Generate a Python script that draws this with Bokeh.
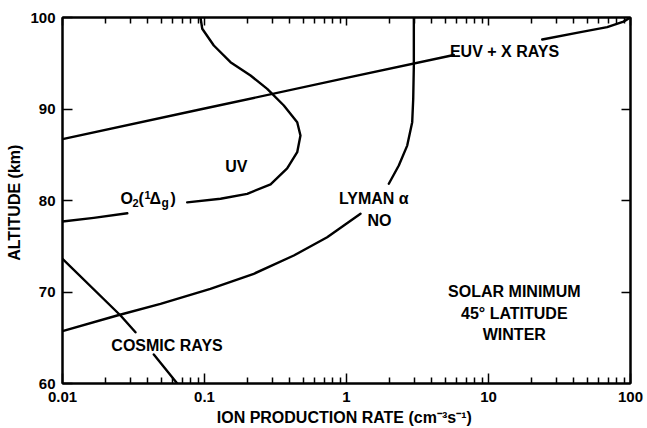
from bokeh.plotting import figure
from bokeh.models import LogAxis, LinearAxis, FixedTicker, Label, Range1d
from bokeh.embed import file_html
from bokeh.resources import INLINE

FONT = "Liberation Sans"

# Axis ticks
x_major = [0.01, 0.1, 1, 10, 100]
x_tick_labels = ["0.01", "0.1", "1", "10", "100"]
y_major = [60, 70, 80, 90, 100]
y_right_ticks = [70, 80, 90]

# Ion production rate (cm^-3 s^-1) against altitude (km).
# Each source is split into pieces where its label interrupts the curve.
euv_lo_rate = [0.01, 0.1, 1.0, 5.7]
euv_lo_alt = [86.7, 90.05, 93.4, 95.9]
euv_hi_rate = [23.9, 44.5, 68.5, 89.3, 100.0]
euv_hi_alt = [97.6, 98.4, 98.95, 99.55, 100.0]

uv_lo_rate = [0.01, 0.0166, 0.0286]
uv_lo_alt = [77.7, 78.1, 78.6]
uv_hi_rate = [0.0755, 0.1297, 0.1999, 0.292, 0.382, 0.4497, 0.474, 0.4497,
              0.362, 0.2765, 0.211, 0.1524, 0.1163, 0.0964, 0.0937]
uv_hi_alt = [79.8, 80.19, 80.73, 81.77, 83.5, 85.28, 87.1, 88.55,
             90.38, 92.2, 93.66, 95.12, 96.94, 98.77, 100.0]

lyman_lo_rate = [0.01, 0.02426, 0.049, 0.110, 0.2223, 0.4255, 0.731, 1.255]
lyman_lo_alt = [65.72, 67.43, 68.71, 70.35, 71.99, 73.99, 75.99, 78.55]
lyman_hi_rate = [1.986, 2.335, 2.676, 2.902, 2.95, 2.98, 2.98]
lyman_hi_alt = [81.83, 83.83, 86.0, 88.56, 91.1, 94.75, 100.0]

cosmic_hi_rate = [0.01, 0.02563, 0.03266]
cosmic_hi_alt = [73.63, 67.43, 65.6]
cosmic_lo_rate = [0.04395, 0.0643]
cosmic_lo_alt = [63.17, 60.0]

p = figure(width=647, height=428, x_axis_type="log",
           x_range=Range1d(0.01, 100), y_range=Range1d(60, 100),
           output_backend="svg", toolbar_location=None,
           min_border_left=62, min_border_right=17,
           min_border_top=17, min_border_bottom=45)
p.grid.visible = False
p.outline_line_color = "black"
p.outline_line_width = 2
p.background_fill_color = "white"
p.border_fill_color = "white"

x_minor = [m * 10.0 ** e for e in range(-2, 2) for m in range(2, 10)]

# bottom axis
xa = p.xaxis[0]
xa.ticker = FixedTicker(ticks=x_major, minor_ticks=x_minor)
xa.major_label_overrides = dict(zip(x_major, x_tick_labels))
xa.major_tick_in = 10
xa.major_tick_out = 0
xa.minor_tick_in = 6
xa.minor_tick_out = 0
xa.axis_line_width = 2
xa.major_tick_line_width = 1.5
xa.minor_tick_line_width = 1.5
xa.major_label_standoff = 8
xa.major_label_text_font = FONT
xa.major_label_text_font_style = "bold"
xa.major_label_text_font_size = "15px"
xa.major_label_text_color = "black"
xa.axis_label = "ION PRODUCTION RATE  (cm\u207b\u00b3s\u207b\u00b9)"
xa.axis_label_text_font = FONT
xa.axis_label_text_font_style = "bold"
xa.axis_label_text_font_size = "16px"
xa.axis_label_text_color = "black"
xa.axis_label_standoff = 4

# top axis, ticks only
ta = LogAxis(ticker=FixedTicker(ticks=x_major, minor_ticks=x_minor),
             major_tick_in=8, major_tick_out=0, minor_tick_in=6, minor_tick_out=0,
             axis_line_width=2, major_tick_line_width=1.5, minor_tick_line_width=1.5,
             major_label_text_font_size="1px", major_label_text_color=None,
             major_label_standoff=0)
p.add_layout(ta, "above")

# left axis
ya = p.yaxis[0]
ya.ticker = FixedTicker(ticks=y_major)
ya.major_tick_in = 10
ya.major_tick_out = 0
ya.minor_tick_line_color = None
ya.axis_line_width = 2
ya.major_tick_line_width = 1.5
ya.major_label_standoff = 7
ya.major_label_text_font = FONT
ya.major_label_text_font_style = "bold"
ya.major_label_text_font_size = "15px"
ya.major_label_text_color = "black"
ya.axis_label = "ALTITUDE  (km)"
ya.axis_label_text_font = FONT
ya.axis_label_text_font_style = "bold"
ya.axis_label_text_font_size = "16px"
ya.axis_label_text_color = "black"
ya.axis_label_standoff = 4

# right axis, ticks only
ra = LinearAxis(ticker=FixedTicker(ticks=y_right_ticks),
                major_tick_in=9, major_tick_out=0, minor_tick_line_color=None,
                axis_line_width=2, major_tick_line_width=1.5,
                major_label_text_font_size="1px", major_label_text_color=None,
                major_label_standoff=0)
p.add_layout(ra, "right")

segments = [
    (euv_lo_rate, euv_lo_alt), (euv_hi_rate, euv_hi_alt),
    (uv_lo_rate, uv_lo_alt), (uv_hi_rate, uv_hi_alt),
    (lyman_lo_rate, lyman_lo_alt), (lyman_hi_rate, lyman_hi_alt),
    (cosmic_hi_rate, cosmic_hi_alt), (cosmic_lo_rate, cosmic_lo_alt),
]
for xs, ys in segments:
    p.line(xs, ys, line_color="black", line_width=2.4, line_join="round", line_cap="round")


def label(x, y, text, size="16px", align="center", **kw):
    p.add_layout(Label(x=x, y=y, text=text, text_font=FONT, text_font_style="bold",
                       text_font_size=size, text_align=align,
                       text_baseline="middle", text_color="black", **kw))


label(12.97, 96.28, "EUV + X RAYS")
label(0.1675, 83.74, "UV")

# O2(1Δg) built from pieces so sub/superscripts sit properly
o2_x, o2_y = 0.0256, 80.2
label(o2_x, o2_y, "O", align="left")
label(o2_x, o2_y, "2", size="11px", align="left", x_offset=12, y_offset=-4)
label(o2_x, o2_y, "(", align="left", x_offset=18)
label(o2_x, o2_y, "1", size="11px", align="left", x_offset=24, y_offset=4)
label(o2_x, o2_y, "\u0394", align="left", x_offset=29)
label(o2_x, o2_y, "g", size="12px", align="left", x_offset=41, y_offset=-4)
label(o2_x, o2_y, ")", align="left", x_offset=50)

label(1.556, 80.27, "LYMAN \u03b1")
label(1.708, 77.84, "NO")
label(0.0545, 64.2, "COSMIC RAYS")
label(15.2, 70.08, "SOLAR MINIMUM")
label(15.2, 67.7, "45\u00b0 LATITUDE")
label(15.2, 65.36, "WINTER")

open("out.html", "w").write(file_html(p, INLINE))
